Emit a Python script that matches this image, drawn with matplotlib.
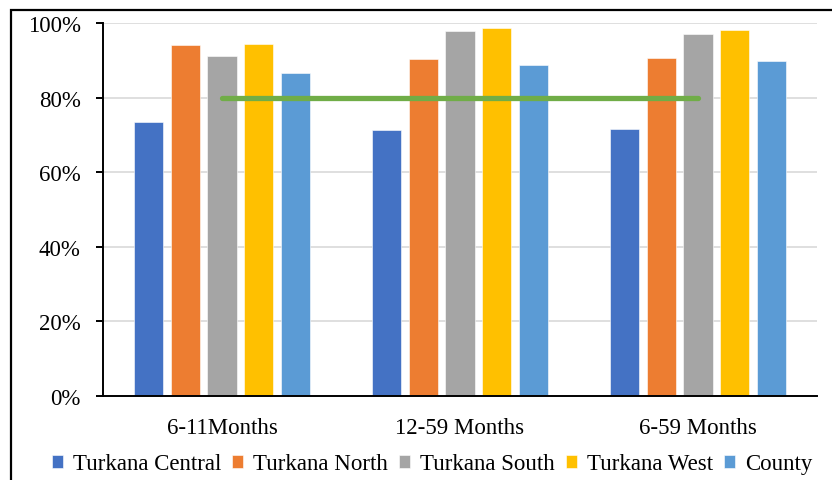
import matplotlib
matplotlib.use("Agg")
import matplotlib.pyplot as plt
from matplotlib.patches import Rectangle
from matplotlib.ticker import PercentFormatter
import numpy as np

plt.rcParams['font.family'] = ['Liberation Serif', 'DejaVu Serif']

categories = ["6-11Months", "12-59 Months", "6-59 Months"]
series_names = ["Turkana Central", "Turkana North", "Turkana South",
                "Turkana West", "County"]
turkana_central = [73.4, 71.3, 71.6]
turkana_north = [94.1, 90.3, 90.7]
turkana_south = [91.2, 97.9, 97.1]
turkana_west = [94.3, 98.7, 98.1]
county = [86.5, 88.7, 89.8]
target = [80, 80, 80]

series_values = [turkana_central, turkana_north, turkana_south,
                 turkana_west, county]
colors = ["#4472C4", "#ED7D31", "#A5A5A5", "#FFC000", "#5B9BD5"]
target_color = "#70AD47"

W, H = 832, 481
fig = plt.figure(figsize=(W / 100, H / 100), dpi=100)

# outer chart frame
fig.patches.append(Rectangle((11 / W, -0.1), 1.2, (H - 11) / H + 0.1,
                             transform=fig.transFigure, fill=False,
                             edgecolor="black", linewidth=1.6, zorder=0))

ax = fig.add_axes([103 / W, (H - 397) / H, (817 - 103) / W, (397 - 24) / H])

x = np.arange(len(categories))
step = 0.1538
width = 0.122
for i, (name, vals, c) in enumerate(zip(series_names, series_values, colors)):
    ax.bar(x + (i - 2) * step, vals, width=width, color=c, label=name,
           edgecolor="white", linewidth=0.4, zorder=2)

ax.plot(x, target, color=target_color, linewidth=3.8,
        solid_capstyle="round", zorder=3)

ax.set_xlim(-0.5, len(categories) - 0.5)
ax.set_ylim(0, 100)
ax.set_yticks([0, 20, 40, 60, 80, 100])
ax.yaxis.set_major_formatter(PercentFormatter(decimals=0))
ax.set_xticks(x)
ax.set_xticklabels(categories)

ax.grid(axis="y", color="#d9d9d9", linewidth=1.2, zorder=0)
ax.set_axisbelow(True)
for side in ["top", "right"]:
    ax.spines[side].set_visible(False)
ax.spines["left"].set_linewidth(1.4)
ax.spines["bottom"].set_linewidth(1.4)
ax.tick_params(axis="y", length=5, width=1.4, pad=11, labelsize=16.5)
ax.tick_params(axis="x", length=0, pad=15, labelsize=16.5)

handles, labels = ax.get_legend_handles_labels()
fig.legend(handles, labels, loc="center", ncol=5,
           bbox_to_anchor=(432 / W, 16 / H), frameon=False,
           fontsize=16.5, handlelength=0.5, handleheight=0.5,
           handletextpad=0.42, columnspacing=0.48, borderpad=0)

fig.savefig("out.png", dpi=100)
